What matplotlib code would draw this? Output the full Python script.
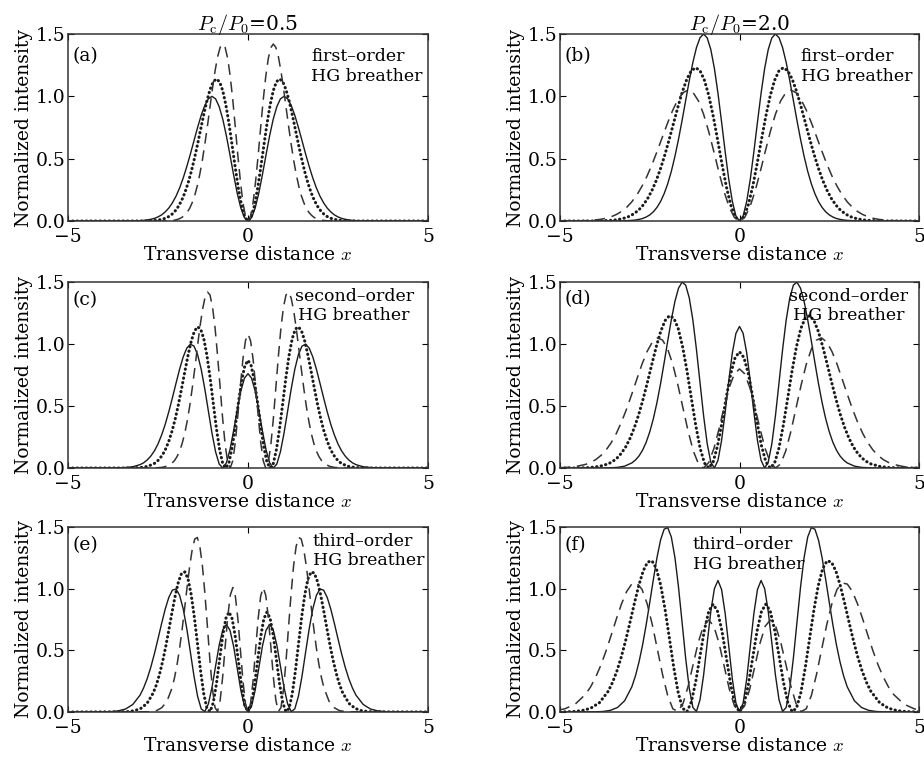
import matplotlib
matplotlib.use("Agg")
import matplotlib.pyplot as plt
import numpy as np

plt.rcParams['font.family'] = ['DejaVu Serif']
plt.rcParams['mathtext.fontset'] = 'cm'

# half profiles (x >= 0); curves are mirror-symmetric about x = 0
X_SOLID = [0.0, 0.1, 0.2, 0.3, 0.4, 0.5, 0.6, 0.7, 0.8, 0.9, 1.0, 1.1, 1.2, 1.3, 1.4, 1.5, 1.6, 1.7, 1.8, 1.9,
           2.0, 2.1, 2.2, 2.3, 2.4, 2.5, 2.6, 2.7, 2.8, 2.9, 3.0, 3.2, 3.4, 3.6, 3.8, 4.0, 5.0]
X_DOT_L = [0.0, 0.088, 0.175, 0.263, 0.351, 0.439, 0.526, 0.614, 0.702, 0.789, 0.877, 0.965, 1.052, 1.140,
           1.228, 1.316, 1.403, 1.491, 1.579, 1.666, 1.754, 1.842, 1.929, 2.017, 2.105, 2.193, 2.280, 2.368,
           2.456, 2.543, 2.631, 2.806, 2.982, 3.157, 3.333, 3.508, 5.0]
X_DASH_L = [0.0, 0.070, 0.141, 0.211, 0.282, 0.352, 0.422, 0.493, 0.563, 0.634, 0.704, 0.774, 0.845, 0.915,
            0.986, 1.056, 1.126, 1.197, 1.267, 1.338, 1.408, 1.478, 1.549, 1.619, 1.690, 1.760, 1.830, 1.901,
            1.971, 2.042, 2.112, 2.253, 2.394, 2.534, 2.675, 2.816, 5.0]
X_DOT_R = [0.0, 0.122, 0.244, 0.366, 0.488, 0.610, 0.732, 0.854, 0.976, 1.098, 1.220, 1.342, 1.464, 1.586,
           1.708, 1.830, 1.952, 2.074, 2.196, 2.318, 2.440, 2.562, 2.684, 2.806, 2.928, 3.050, 3.172, 3.294,
           3.416, 3.538, 3.660, 3.904, 4.148, 4.392, 4.636, 4.880, 5.0]
X_DASH_R = [0.0, 0.143, 0.286, 0.429, 0.572, 0.715, 0.858, 1.001, 1.144, 1.287, 1.430, 1.573, 1.716, 1.859,
            2.002, 2.145, 2.288, 2.431, 2.574, 2.717, 2.860, 3.003, 3.146, 3.289, 3.432, 3.575, 3.718, 3.861,
            4.004, 4.147, 4.290, 4.576, 4.862, 5.148, 5.434, 5.720, 6.0]

A_SOLID = [0, 0.027, 0.105, 0.224, 0.371, 0.529, 0.683, 0.816, 0.917, 0.980, 1.000, 0.981, 0.927, 0.848, 0.751,
           0.645, 0.538, 0.437, 0.345, 0.265, 0.199, 0.146, 0.104, 0.073, 0.049, 0.033, 0.021, 0.014, 0.008,
           0.005, 0.003, 0.001, 0, 0, 0, 0, 0]
A_DOT = [0, 0.031, 0.119, 0.255, 0.422, 0.603, 0.778, 0.930, 1.046, 1.117, 1.140, 1.118, 1.057, 0.966, 0.856,
         0.735, 0.613, 0.498, 0.393, 0.303, 0.227, 0.166, 0.119, 0.083, 0.056, 0.037, 0.024, 0.015, 0.010,
         0.006, 0.003, 0.001, 0, 0, 0, 0, 0]
A_DASH = [0, 0.038, 0.148, 0.318, 0.526, 0.751, 0.969, 1.159, 1.303, 1.391, 1.420, 1.393, 1.317, 1.204, 1.066,
          0.915, 0.764, 0.620, 0.490, 0.377, 0.283, 0.207, 0.148, 0.103, 0.070, 0.047, 0.030, 0.019, 0.012,
          0.007, 0.004, 0.001, 0, 0, 0, 0, 0]

B_SOLID = [0, 0.040, 0.157, 0.335, 0.556, 0.794, 1.024, 1.224, 1.376, 1.469, 1.500, 1.471, 1.391, 1.272, 1.126,
           0.967, 0.807, 0.655, 0.518, 0.398, 0.299, 0.219, 0.156, 0.109, 0.074, 0.049, 0.032, 0.020, 0.013,
           0.008, 0.005, 0.002, 0, 0, 0, 0, 0]
B_DOT = [0, 0.033, 0.129, 0.275, 0.456, 0.651, 0.840, 1.004, 1.128, 1.205, 1.230, 1.206, 1.141, 1.043, 0.923,
         0.793, 0.662, 0.537, 0.424, 0.326, 0.245, 0.179, 0.128, 0.089, 0.061, 0.040, 0.026, 0.017, 0.010,
         0.006, 0.004, 0.001, 0, 0, 0, 0, 0]
B_DASH = [0, 0.028, 0.110, 0.235, 0.389, 0.556, 0.717, 0.857, 0.963, 1.028, 1.050, 1.030, 0.974, 0.890, 0.788,
          0.677, 0.565, 0.458, 0.362, 0.279, 0.209, 0.153, 0.109, 0.076, 0.052, 0.034, 0.022, 0.014, 0.009,
          0.005, 0.003, 0.001, 0, 0, 0, 0, 0]

C_SOLID = [0.761, 0.724, 0.619, 0.468, 0.300, 0.148, 0.042, 0.000, 0.032, 0.130, 0.280, 0.458, 0.638, 0.796,
           0.915, 0.983, 0.999, 0.967, 0.896, 0.797, 0.683, 0.566, 0.454, 0.352, 0.266, 0.194, 0.138, 0.096,
           0.065, 0.042, 0.027, 0.010, 0.004, 0.001, 0, 0, 0]
C_DOT = [0.868, 0.825, 0.706, 0.533, 0.342, 0.169, 0.047, 0.000, 0.036, 0.148, 0.319, 0.522, 0.727, 0.907,
         1.043, 1.121, 1.139, 1.102, 1.021, 0.908, 0.779, 0.645, 0.517, 0.402, 0.303, 0.222, 0.158, 0.109,
         0.074, 0.048, 0.031, 0.012, 0.004, 0.001, 0, 0, 0]
C_DASH = [1.081, 1.028, 0.879, 0.664, 0.426, 0.210, 0.059, 0.000, 0.045, 0.185, 0.398, 0.650, 0.905, 1.130,
          1.299, 1.396, 1.419, 1.373, 1.272, 1.132, 0.970, 0.804, 0.644, 0.500, 0.377, 0.276, 0.197, 0.136,
          0.092, 0.060, 0.039, 0.015, 0.005, 0.002, 0, 0, 0]

D_SOLID = [1.142, 1.086, 0.929, 0.702, 0.450, 0.222, 0.062, 0.000, 0.047, 0.195, 0.420, 0.687, 0.956, 1.194,
           1.372, 1.475, 1.499, 1.450, 1.343, 1.195, 1.025, 0.849, 0.680, 0.528, 0.398, 0.292, 0.208, 0.144,
           0.097, 0.064, 0.041, 0.015, 0.005, 0.002, 0, 0, 0]
D_DOT = [0.937, 0.891, 0.762, 0.576, 0.369, 0.182, 0.051, 0.000, 0.039, 0.160, 0.345, 0.563, 0.784, 0.979,
         1.125, 1.209, 1.229, 1.189, 1.101, 0.980, 0.840, 0.696, 0.558, 0.433, 0.327, 0.239, 0.170, 0.118,
         0.079, 0.052, 0.033, 0.013, 0.004, 0.001, 0, 0, 0]
D_DASH = [0.799, 0.760, 0.650, 0.491, 0.315, 0.156, 0.044, 0.000, 0.033, 0.137, 0.294, 0.481, 0.669, 0.836,
          0.960, 1.032, 1.049, 1.015, 0.940, 0.837, 0.717, 0.594, 0.476, 0.370, 0.279, 0.204, 0.145, 0.101,
          0.068, 0.045, 0.029, 0.011, 0.004, 0.001, 0, 0, 0]

E_SOLID = [0, 0.048, 0.178, 0.356, 0.533, 0.662, 0.710, 0.667, 0.543, 0.373, 0.200, 0.066, 0.003, 0.025, 0.127,
           0.290, 0.484, 0.675, 0.836, 0.946, 0.997, 0.988, 0.929, 0.834, 0.717, 0.593, 0.472, 0.363, 0.270,
           0.195, 0.136, 0.061, 0.024, 0.009, 0.003, 0.001, 0]
E_DOT = [0, 0.054, 0.203, 0.406, 0.607, 0.755, 0.810, 0.760, 0.619, 0.426, 0.228, 0.075, 0.003, 0.028, 0.145,
         0.331, 0.552, 0.770, 0.953, 1.079, 1.136, 1.126, 1.059, 0.951, 0.817, 0.675, 0.538, 0.414, 0.308,
         0.222, 0.155, 0.069, 0.028, 0.010, 0.003, 0.001, 0]
E_DASH = [0, 0.068, 0.253, 0.505, 0.757, 0.940, 1.009, 0.946, 0.771, 0.530, 0.284, 0.094, 0.004, 0.035, 0.181,
          0.412, 0.687, 0.959, 1.187, 1.344, 1.415, 1.403, 1.319, 1.184, 1.018, 0.841, 0.670, 0.515, 0.383,
          0.276, 0.193, 0.086, 0.035, 0.012, 0.004, 0.001, 0]

F_SOLID = [0, 0.072, 0.267, 0.534, 0.799, 0.993, 1.066, 1.000, 0.815, 0.560, 0.300, 0.099, 0.004, 0.037, 0.191,
           0.435, 0.726, 1.013, 1.254, 1.419, 1.495, 1.482, 1.394, 1.251, 1.075, 0.889, 0.708, 0.544, 0.405,
           0.292, 0.204, 0.091, 0.036, 0.013, 0.004, 0.001, 0]
F_DOT = [0, 0.059, 0.219, 0.438, 0.655, 0.814, 0.874, 0.820, 0.668, 0.459, 0.246, 0.081, 0.003, 0.030, 0.156,
         0.357, 0.595, 0.831, 1.029, 1.164, 1.226, 1.215, 1.143, 1.026, 0.882, 0.729, 0.580, 0.446, 0.332,
         0.239, 0.167, 0.075, 0.030, 0.011, 0.003, 0.001, 0]
F_DASH = [0, 0.050, 0.187, 0.374, 0.559, 0.695, 0.746, 0.700, 0.570, 0.392, 0.210, 0.069, 0.003, 0.026, 0.134,
          0.305, 0.508, 0.709, 0.878, 0.994, 1.046, 1.037, 0.976, 0.875, 0.753, 0.622, 0.495, 0.381, 0.284,
          0.204, 0.143, 0.064, 0.026, 0.009, 0.003, 0.001, 0]

ORDER_TEXT = ["first\u2013order\nHG breather", "second\u2013order\nHG breather", "third\u2013order\nHG breather"]
TITLES = ["$P_{\\mathrm{c}}/P_{0}$=0.5", "$P_{\\mathrm{c}}/P_{0}$=2.0"]
XTICKS = [-5, 0, 5]
YTICKS = [0.0, 0.5, 1.0, 1.5]


def mirror(x, y):
    x = np.asarray(x, dtype=float)
    y = np.asarray(y, dtype=float)
    return np.concatenate([-x[::-1], x[1:]]), np.concatenate([y[::-1], y[1:]])


def draw_panel(ax, xs, ys, label, text, tx, ty, ha):
    (xsol, xdot, xdash), (ysol, ydot, ydash) = xs, ys
    ax.plot(*mirror(xsol, ysol), color='#1a1a1a', lw=1.0)
    ax.plot(*mirror(xdot, ydot), color='#1a1a1a', lw=2.2, linestyle=(0, (0.1, 1.4)),
            dash_capstyle='round')
    ax.plot(*mirror(xdash, ydash), color='#333333', lw=1.1, linestyle=(0, (7, 4.5)))
    ax.set_xlim(-5, 5)
    ax.set_ylim(0, 1.5)
    ax.set_xticks(XTICKS)
    ax.set_xticklabels(['\u22125', '0', '5'])
    ax.set_yticks(YTICKS)
    ax.set_yticklabels(['0.0', '0.5', '1.0', '1.5'])
    ax.tick_params(direction='in', top=True, right=True, length=4, width=0.8, labelsize=13.5, pad=5)
    ax.tick_params(axis='y', pad=2)
    for sp in ax.spines.values():
        sp.set_color('#333333')
        sp.set_linewidth(1.1)
    ax.set_xlabel('Transverse distance $x$', fontsize=13.5, labelpad=0)
    ax.set_ylabel('Normalized intensity', fontsize=13.5, labelpad=2)
    ax.text(0.012, label[1], label[0], transform=ax.transAxes, fontsize=13.5, va='top', ha='left')
    ax.text(tx, ty, text, transform=ax.transAxes, fontsize=12.5, va='top', ha=ha, multialignment=ha)


fig = plt.figure(figsize=(9.24, 7.6), dpi=100)

LEFT = [0.0736, 0.3896]
RIGHT = [0.6061, 0.3885]
ROWS = [(0.7092, 0.246), (0.3842, 0.2447), (0.0632, 0.2434)]

panels = [
    (LEFT, ROWS[0], (X_SOLID, X_DOT_L, X_DASH_L), (A_SOLID, A_DOT, A_DASH), ('(a)', 0.93), ORDER_TEXT[0], 0.675, 0.925, 'left'),
    (RIGHT, ROWS[0], (X_SOLID, X_DOT_R, X_DASH_R), (B_SOLID, B_DOT, B_DASH), ('(b)', 0.93), ORDER_TEXT[0], 0.67, 0.925, 'left'),
    (LEFT, ROWS[1], (X_SOLID, X_DOT_L, X_DASH_L), (C_SOLID, C_DOT, C_DASH), ('(c)', 0.95), ORDER_TEXT[1], 0.795, 0.97, 'center'),
    (RIGHT, ROWS[1], (X_SOLID, X_DOT_R, X_DASH_R), (D_SOLID, D_DOT, D_DASH), ('(d)', 0.955), ORDER_TEXT[1], 0.805, 0.97, 'center'),
    (LEFT, ROWS[2], (X_SOLID, X_DOT_L, X_DASH_L), (E_SOLID, E_DOT, E_DASH), ('(e)', 0.95), ORDER_TEXT[2], 0.68, 0.97, 'left'),
    (RIGHT, ROWS[2], (X_SOLID, X_DOT_R, X_DASH_R), (F_SOLID, F_DOT, F_DASH), ('(f)', 0.95), ORDER_TEXT[2], 0.37, 0.95, 'left'),
]

axes = []
for col, row, xs, ys, label, text, tx, ty, ha in panels:
    ax = fig.add_axes([col[0], row[0], col[1], row[1]])
    draw_panel(ax, xs, ys, label, text, tx, ty, ha)
    axes.append(ax)

axes[0].set_title(TITLES[0], fontsize=14.5, pad=3)
axes[1].set_title(TITLES[1], fontsize=14.5, pad=3)

fig.savefig('out.png', dpi=100)
